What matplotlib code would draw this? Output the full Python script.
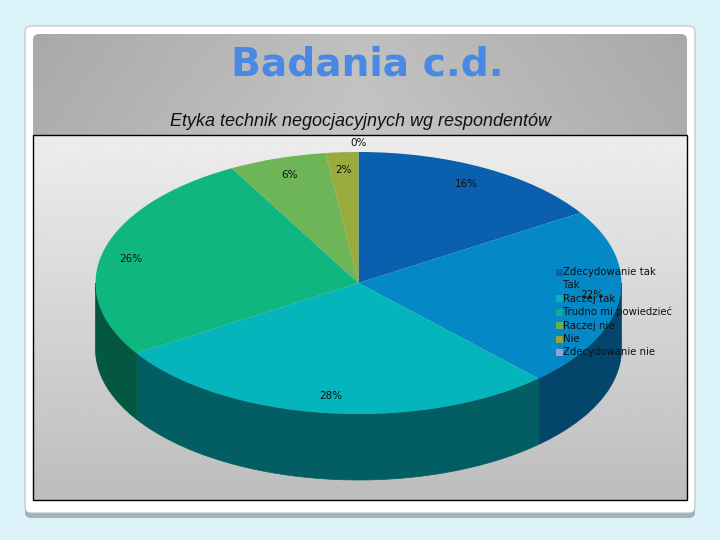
import numpy as np
import matplotlib
matplotlib.use('Agg')
import matplotlib.pyplot as plt
from matplotlib.patches import FancyBboxPatch, Rectangle, Polygon

categories = ['Zdecydowanie tak', 'Tak', 'Raczej tak', 'Trudno mi powiedzieć', 'Raczej nie', 'Nie', 'Zdecydowanie nie']
values = [16, 22, 28, 26, 6, 2, 0]
labels = ['16%', '22%', '28%', '26%', '6%', '2%', '0%']
top_colors = ['#0a5fae', '#0589c6', '#04b6bc', '#10b680', '#6db556', '#98ab3c', '#a9a3dc']
wall_colors = ['#053f6e', '#04466b', '#025e63', '#03583f', '#3a6a2e', '#55601f', '#5f5a85']
label_pos = [(466, 184), (592, 295), (331, 396), (131, 259), (289, 175), (344, 170), (359, 143)]

W, H = 720, 540
cx, cy, rx, ry, depth = 358.5, 283, 263, 131, 66

fig = plt.figure(figsize=(7.2, 5.4), dpi=100, facecolor='#daf2f8')
ax = fig.add_axes([0, 0, 1, 1])
ax.set_xlim(0, W)
ax.set_ylim(H, 0)
ax.axis('off')

# card with its shadow
ax.add_patch(FancyBboxPatch((25, 30), 670, 488, boxstyle='round,pad=0,rounding_size=6', fc='#a3b1b8', ec='none'))
ax.add_patch(FancyBboxPatch((25, 26), 670, 487, boxstyle='round,pad=0,rounding_size=6', fc='white', ec='#b4c2c8', lw=0.8))

# grey panel behind title, lighter in the middle
xs = np.linspace(-1, 1, 300)
ys = np.linspace(0, 1, 60)
top = 0.75 - 0.09 * np.abs(xs)[None, :] + 0.02 * ys[:, None]
head = ax.imshow(top, extent=(33, 687, 135, 34), cmap='gray', vmin=0, vmax=1, aspect='auto', zorder=2)
head.set_clip_path(FancyBboxPatch((33, 34), 654, 120, boxstyle='round,pad=0,rounding_size=6', transform=ax.transData))

# chart box
grad = np.linspace(0.93, 0.74, 200).reshape(-1, 1)
ax.imshow(grad, extent=(33, 687, 500, 135), cmap='gray', vmin=0, vmax=1, aspect='auto', zorder=2)
ax.add_patch(Rectangle((33, 135), 654, 365, fc='none', ec='black', lw=1, zorder=3))
ax.set_xlim(0, W)
ax.set_ylim(H, 0)

# clockwise from the top, same as the pie below
edges = np.cumsum([0] + values) / sum(values) * 2 * np.pi

# side wall, only the front half shows
for i, v in enumerate(values):
    a0 = max(edges[i], np.pi / 2)
    a1 = min(edges[i + 1], 3 * np.pi / 2)
    if a1 <= a0:
        continue
    t = np.linspace(a0, a1, 60)
    x = cx + rx * np.sin(t)
    y = cy - ry * np.cos(t)
    pts = np.r_[np.c_[x, y], np.c_[x[::-1], y[::-1] + depth]]
    ax.add_patch(Polygon(pts, fc=wall_colors[i], ec=wall_colors[i], lw=0.5, zorder=4))

# top face, real pie squashed into the ellipse box
pie_ax = fig.add_axes([(cx - rx) / W, 1 - (cy + ry) / H, 2 * rx / W, 2 * ry / H], zorder=2)
pie_ax.patch.set_alpha(0)
pie_ax.pie(values, colors=top_colors, startangle=90, counterclock=False, radius=1)
pie_ax.set_aspect('auto')
pie_ax.set_xlim(-1, 1)
pie_ax.set_ylim(-1, 1)

# text and legend go on top of everything
over = fig.add_axes([0, 0, 1, 1], zorder=3)
over.set_xlim(0, W)
over.set_ylim(H, 0)
over.axis('off')
over.text(367.5, 65, 'Badania c.d.', ha='center', va='center', fontsize=28.2, fontweight='bold',
          color='#4a88e6', family='DejaVu Sans')
over.text(360, 122, 'Etyka technik negocjacyjnych wg respondentów', ha='center', va='center', fontsize=13,
          style='italic', color='#111111', family='Liberation Sans')
for lab, (x, y) in zip(labels, label_pos):
    over.text(x, y, lab, ha='center', va='center', fontsize=7.5, color='#111111')

for name, col, y in zip(categories, top_colors, np.arange(7) * 13.4 + 272):
    over.add_patch(Rectangle((556, y - 3.5), 7, 7, fc=col, ec='none', alpha=0.9))
    over.text(563, y, name, ha='left', va='center', fontsize=7.25, color='#111111')

fig.savefig('out.png', dpi=100, facecolor=fig.get_facecolor())
